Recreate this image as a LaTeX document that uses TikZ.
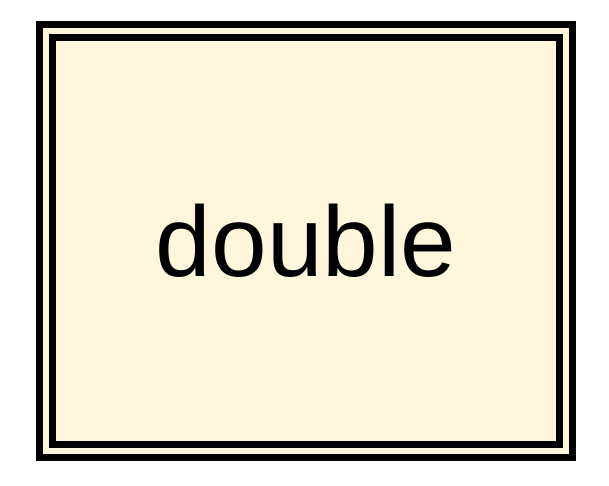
\documentclass[tikz,border=0pt]{standalone}
\usepackage{fontspec}
\setmainfont{Liberation Sans}
\usepackage{xcolor}
\usepackage{tikz}
\definecolor{boxfill}{RGB}{255, 246, 220}

\begin{document}
\begin{tikzpicture}[
  x=1pt, y=1pt,
  doublebox/.style={draw=black, fill=boxfill, line width=7pt, double=boxfill,
    double distance=6pt, minimum width=520pt, minimum height=420pt,
    inner sep=0pt, font=\fontsize{100}{120}\selectfont},
]
  % Canvas
  \useasboundingbox (0,0) rectangle (609,485);

  % Box
  \node[doublebox] (dbl) at (306,244) {double};

\end{tikzpicture}
\end{document}
